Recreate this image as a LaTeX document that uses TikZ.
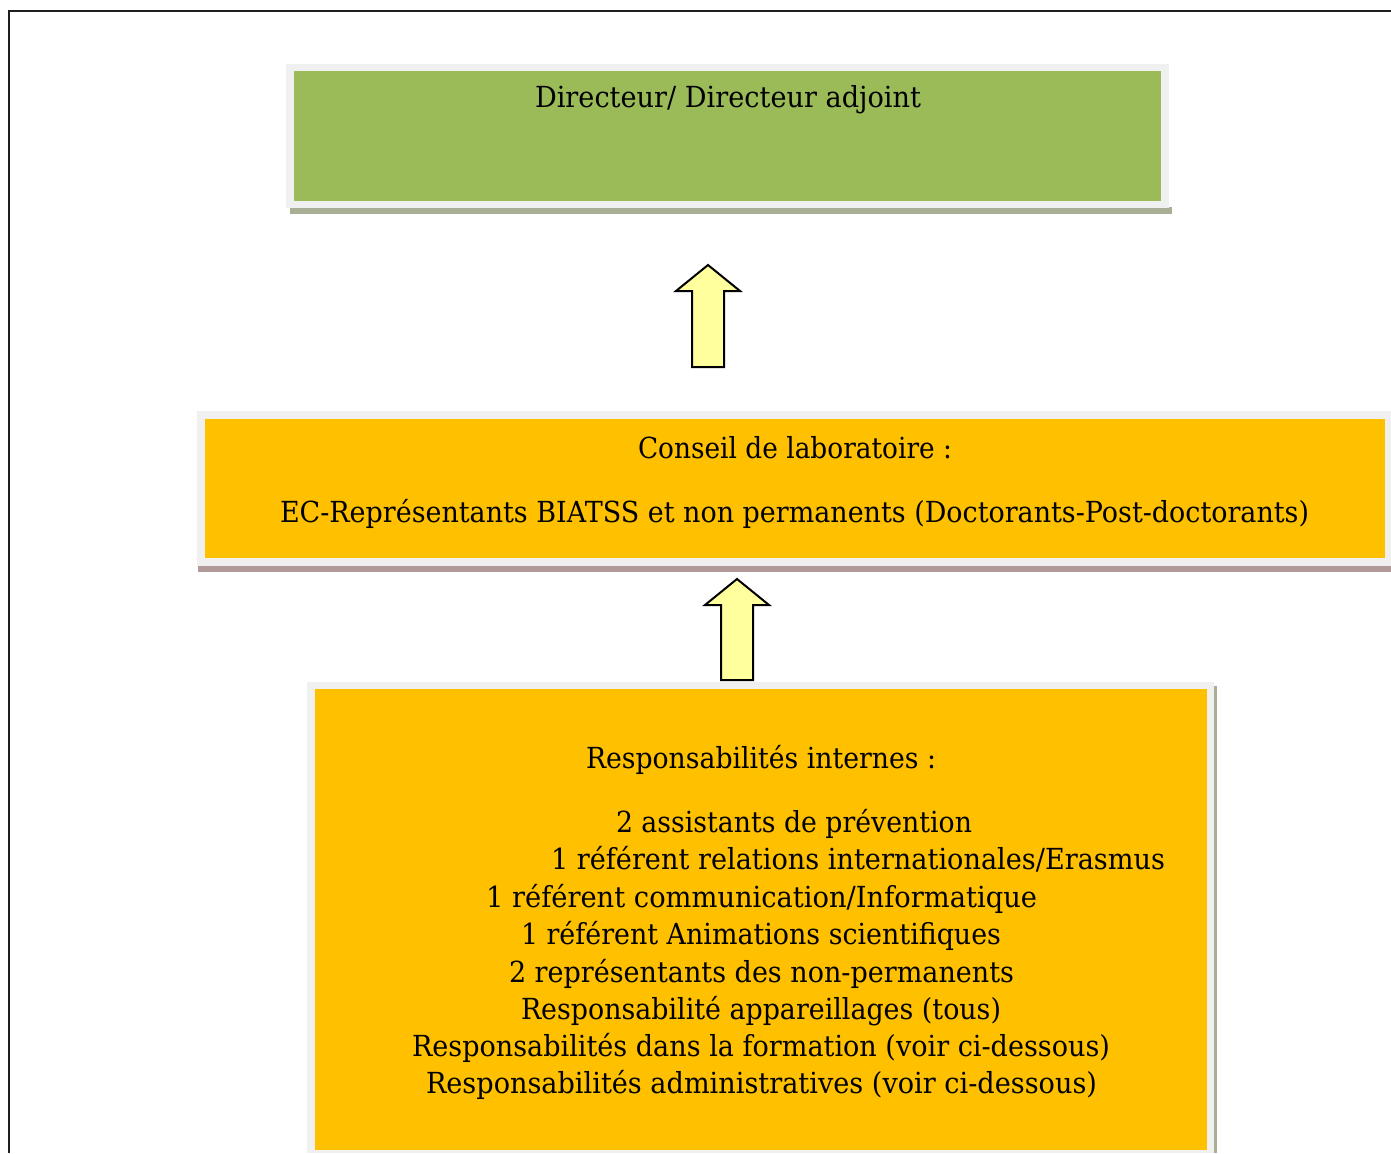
\documentclass[tikz,border=0pt]{standalone}
\usepackage{fontspec}
\setmainfont{DejaVu Serif}
\usepackage{graphicx}
\definecolor{framegray}{HTML}{F0F0F0}
\definecolor{boxgreen}{HTML}{9BBB59}
\definecolor{boxorange}{HTML}{FFC000}
\definecolor{shadowgreen}{HTML}{A8AF94}
\definecolor{shadowmauve}{HTML}{B39A9A}
\definecolor{arrowfill}{HTML}{FFFF9E}
\definecolor{outline}{HTML}{1E1E1E}
\newcommand{\fitw}[2]{\resizebox{#1pt}{\height}{#2}}
\tikzset{
  txt/.style={anchor=base west, inner sep=0pt, outer sep=0pt, font=\fontsize{29}{35}\selectfont},
  blockarrow/.style={fill=arrowfill, draw=black, line width=2pt, line join=miter},
}
\begin{document}
\begin{tikzpicture}[x=1pt,y=-1pt]
\useasboundingbox (0,0) rectangle (1391,1153);
% outer frame
\draw[outline, line width=2pt] (9,1153) -- (9,11) -- (1391,11);
% box 1
\fill[shadowgreen] (290,207) rectangle (1172,214);
\fill[framegray] (286,64) rectangle (1169,208);
\fill[boxgreen] (294,71) rectangle (1161,201);
\node[txt] (dir) at (535,108) {\fitw{386}{Directeur/ Directeur adjoint}};
% arrow 1
\draw[blockarrow] (692,367) -- (692,291) -- (676,291) -- (708,265) -- (740,291) -- (724,291) -- (724,367) -- cycle;
% box 2
\fill[shadowmauve] (198,566) rectangle (1391,572);
\fill[framegray] (197,411) rectangle (1391,566);
\fill[boxorange] (205,419) rectangle (1385,558);
\node[txt] (cons) at (638,458) {\fitw{314}{Conseil de laboratoire :}};
\node[txt] (ec) at (280,522) {\fitw{1029}{EC-Représentants BIATSS et non permanents (Doctorants-Post-doctorants)}};
% arrow 2
\draw[blockarrow] (721,680) -- (721,605) -- (705,605) -- (737,579) -- (769,605) -- (753,605) -- (753,680) -- cycle;
% box 3
\fill[shadowgreen] (1214,686) rectangle (1217,1153);
\fill[framegray] (307,682) rectangle (1214,1153);
\fill[boxorange] (315,689) rectangle (1207,1150);
\node[txt] (r0) at (586,768) {\fitw{350}{Responsabilités internes :}};
\node[txt] (r1) at (616,832) {\fitw{356}{2 assistants de prévention}};
\node[txt] (r2) at (551,869) {\fitw{614}{1 référent relations internationales/Erasmus}};
\node[txt] (r3) at (486,907) {\fitw{551}{1 référent communication/Informatique}};
\node[txt] (r4) at (521,944) {\fitw{480}{1 référent Animations scientifiques}};
\node[txt] (r5) at (509,982) {\fitw{505}{2 représentants des non-permanents}};
\node[txt] (r6) at (521,1019) {\fitw{480}{Responsabilité appareillages (tous)}};
\node[txt] (r7) at (412,1056) {\fitw{698}{Responsabilités dans la formation (voir ci-dessous)}};
\node[txt] (r8) at (426,1093) {\fitw{671}{Responsabilités administratives (voir ci-dessous)}};
\end{tikzpicture}
\end{document}
